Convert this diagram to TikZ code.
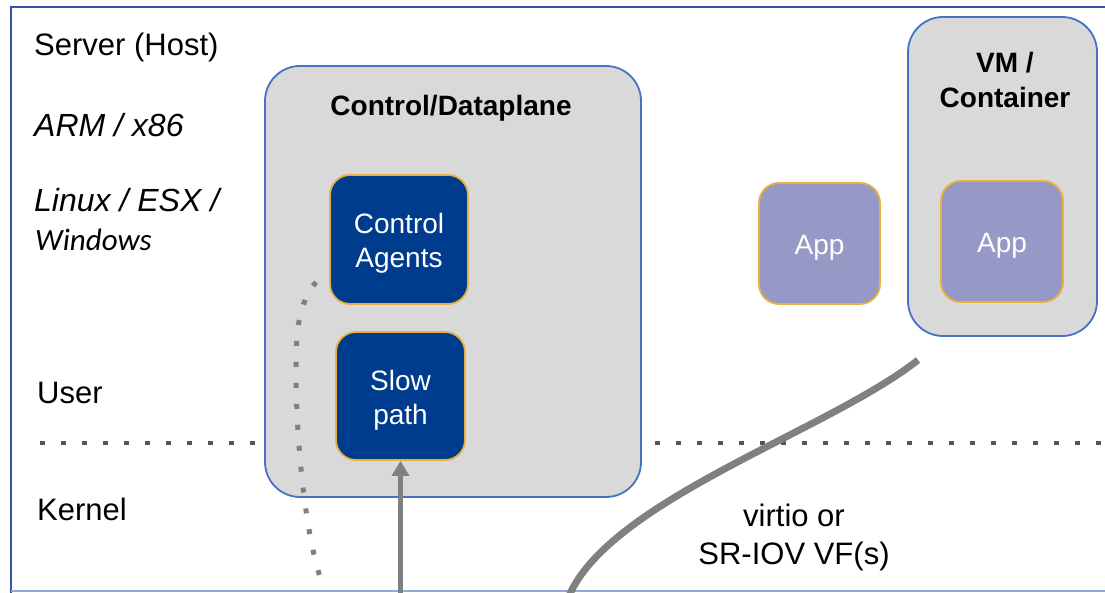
\documentclass[tikz,border=0pt]{standalone}
\usepackage{fontspec}
\setmainfont{Liberation Sans}
\newfontfamily\calibrifont{Carlito}
\usetikzlibrary{arrows.meta}

\definecolor{boxgray}{HTML}{D9D9D9}
\definecolor{boxblue}{HTML}{4472C4}
\definecolor{navy}{HTML}{003C8E}
\definecolor{gold}{HTML}{E6B13C}
\definecolor{lavender}{HTML}{9698C6}
\definecolor{framedark}{HTML}{2F55A4}
\definecolor{framelight}{HTML}{8EA9DB}
\definecolor{linegray}{HTML}{808080}
\definecolor{dotgray}{HTML}{555555}

\tikzset{
  bigfont/.style={font=\fontsize{31}{38}\selectfont},
  italfont/.style={font=\fontsize{32}{38}\selectfont\itshape},
  boxfont/.style={font=\fontsize{28}{34}\selectfont},
  titlefont/.style={font=\fontsize{28}{35}\selectfont\bfseries},
  sidelabel/.style={bigfont, anchor=west, inner sep=0pt},
  container/.style={draw=boxblue, fill=boxgray, line width=1.8pt,
    rounded corners=35pt, inner sep=0pt},
  boxtext/.style={text=white, boxfont, align=center, inner sep=0pt, yshift=-4pt},
  darkbox/.style={draw=gold, fill=navy, line width=1.8pt, rounded corners=20pt,
    inner sep=0pt},
  appbox/.style={draw=gold, fill=lavender, line width=1.8pt, rounded corners=20pt,
    inner sep=0pt},
  layerline/.style={dotgray, line width=4.5pt, dash pattern=on 4.5pt off 16.5pt},
  hintpath/.style={linegray, line width=5pt, dash pattern=on 5pt off 16pt},
  datapath/.style={linegray, line width=5pt,
    -{Triangle[width=17pt,length=15pt]}},
  vfpath/.style={linegray, line width=7pt},
}

\begin{document}
\begin{tikzpicture}[x=1pt, y=-1pt]
  \useasboundingbox (0,0) rectangle (1105,593);
  \fill[white] (0,0) rectangle (1105,593);

  % host frame
  \draw[framedark, line width=2.5pt] (11,593) -- (11,7) -- (1105,7);
  \draw[framelight, line width=1.5pt] (11,591) -- (1105,591);

  % host labels
  \node[sidelabel] (host) at (34,47) {Server (Host)};
  \node[sidelabel, italfont] (arch) at (34,125) {ARM / x86};
  \node[sidelabel, italfont] (os) at (34,200) {Linux / ESX /};
  \node[sidelabel, font=\fontsize{31}{36}\calibrifont\itshape] (os2) at (35,240) {Windows};
  \node[sidelabel] (user) at (37,393) {User};
  \node[sidelabel] (kernel) at (37,509) {Kernel};

  % user / kernel boundary
  \coordinate (ul) at (40,443);
  \coordinate (ur) at (258,443);
  \coordinate (rl) at (655,443);
  \coordinate (rr) at (1105,443);
  \draw[layerline] (ul) -- (ur);
  \draw[layerline] (rl) -- (rr);

  % control / dataplane
  \node[container, minimum width=376pt, minimum height=431pt] (cdp) at (453,281.5) {};
  \node[titlefont, inner sep=0pt] (cdptitle) at (451,108) {Control/Dataplane};
  \node[darkbox, minimum width=138pt, minimum height=129pt,
        label={[boxtext]center:Control\\Agents}] (agents) at (399,239.5) {};
  \node[darkbox, minimum width=129pt, minimum height=128pt,
        label={[boxtext]center:Slow\\path}] (slow) at (400.5,396) {};

  % applications
  \node[appbox, minimum width=121pt, minimum height=121pt,
        label={[boxtext]center:App}] (app1) at (819.5,243.5) {};
  \node[container, minimum width=189pt, minimum height=319pt] (vm) at (1002.5,176.5) {};
  \node[titlefont, align=center, inner sep=0pt] (vmtitle) at (1005,80) {VM /\\Container};
  \node[appbox, minimum width=122pt, minimum height=121pt,
        label={[boxtext]center:App}] (app2) at (1002,241.5) {};

  % control hint path
  \coordinate (htop) at (316,282);
  \coordinate (hbot) at (320,577);
  \draw[hintpath] (htop) .. controls (298,305) and (296,330) .. (296,370)
                         .. controls (296,440) and (305,530) .. (hbot);

  % data path into slow path
  \coordinate (dfoot) at (400.5,596);
  \draw[datapath] (dfoot) -- (slow.south);

  % virtio / SR-IOV link
  \coordinate (vtop) at (918,360);
  \coordinate (vbot) at (569,596);
  \draw[vfpath] (vtop) .. controls (830,430) and (610,500) .. (vbot);
  \node[bigfont, align=center, inner sep=0pt] (vflabel) at (794,537) {virtio or\\SR-IOV VF(s)};
\end{tikzpicture}
\end{document}
